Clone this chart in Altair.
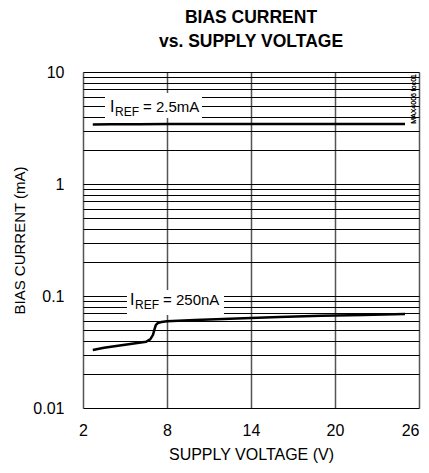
import altair as alt
import pandas as pd

FONT = "Liberation Sans, Arial, sans-serif"

# ---- data ----
x_ticks = [2, 8, 14, 20, 26]
y_grid = [0.01, 0.02, 0.03, 0.04, 0.05, 0.06, 0.07, 0.08, 0.09,
          0.1, 0.2, 0.3, 0.4, 0.5, 0.6, 0.7, 0.8, 0.9,
          1, 2, 3, 4, 5, 6, 7, 8, 9, 10]
y_labels = ["0.01", "0.1", "1", "10"]

hi_v = [2.7, 4, 6, 8, 11, 14, 17, 20, 23, 25]
hi_i = [3.40, 3.42, 3.42, 3.43, 3.43, 3.43, 3.43, 3.43, 3.43, 3.43]

lo_v = [2.7, 3.5, 4.5, 5.5, 6.5, 6.8, 7.0, 7.1, 7.2, 7.35, 7.6, 8, 10, 13, 16, 19, 22, 25]
lo_i = [0.033, 0.0345, 0.036, 0.0375, 0.039, 0.041, 0.045, 0.050, 0.055, 0.0575,
        0.0585, 0.0595, 0.061, 0.063, 0.065, 0.0665, 0.0678, 0.069]

# label boxes (x from, x to, y from, y to) and label anchor
box_x = [3.57, 5.14]
box_x2 = [10.5, 12.07]
box_y = [3.88, 0.0676]
box_y2 = [6.5, 0.113]
lab_x = [3.93, 5.36]
lab_y = [4.87, 0.092]
lab_val = ["= 2.5mA", "= 250nA"]

curves = pd.DataFrame({
    "v": hi_v + lo_v,
    "i": hi_i + lo_i,
    "s": ["hi"] * len(hi_v) + ["lo"] * len(lo_v),
})
boxes = pd.DataFrame({"x": box_x, "x2": box_x2, "y": box_y, "y2": box_y2})
labels = pd.DataFrame({"x": lab_x, "y": lab_y, "val": lab_val})

xs = alt.Scale(domain=[2, 26], nice=False)
ys = alt.Scale(type="log", domain=[0.01, 10], nice=False)

label_expr = ("indexof(" + str(y_labels).replace('"', "'") +
              ", format(datum.value, '')) >= 0 ? format(datum.value, '') : ''")

x_axis = alt.Axis(values=x_ticks, grid=True, gridColor="#555555", gridWidth=1.5,
                  ticks=False, domain=False, labelFontSize=16, labelFont=FONT,
                  labelColor="black", labelPadding=14, title="SUPPLY VOLTAGE (V)",
                  titleFont=FONT, titleFontSize=16, titleFontWeight="normal",
                  titleColor="black", titlePadding=8, labelFlush=False,
                  labelAlign={"condition": {"test": "datum.value == 26", "value": "right"},
                              "value": "center"})
y_axis = alt.Axis(values=y_grid, grid=True, gridColor="black", gridWidth=1,
                  ticks=False, domain=False, labelFontSize=16, labelFont=FONT,
                  labelColor="black", labelPadding=19, labelExpr=label_expr,
                  title="BIAS CURRENT (mA)", titleFont=FONT, titleFontSize=15,
                  titleFontWeight="normal", titleColor="black", titlePadding=5,
                  labelFlush=False, labelOverlap=False)

base = alt.Chart(curves)

lines = base.mark_line(color="black", strokeWidth=2.5).encode(
    x=alt.X("v:Q", scale=xs, axis=x_axis),
    y=alt.Y("i:Q", scale=ys, axis=y_axis),
    detail="s:N",
)

rects = alt.Chart(boxes).mark_rect(color="white").encode(
    x=alt.X("x:Q", scale=xs), x2="x2:Q",
    y=alt.Y("y:Q", scale=ys), y2="y2:Q",
)

t_i = alt.Chart(labels).mark_text(text="I", font=FONT, fontSize=16, align="left",
                                  baseline="middle", color="black").encode(
    x=alt.X("x:Q", scale=xs), y=alt.Y("y:Q", scale=ys))
t_ref = alt.Chart(labels).mark_text(text="REF", font=FONT, fontSize=12, align="left",
                                    baseline="middle", color="black", dx=5, dy=5).encode(
    x=alt.X("x:Q", scale=xs), y=alt.Y("y:Q", scale=ys))
t_val = alt.Chart(labels).mark_text(font=FONT, fontSize=15, align="left",
                                    baseline="middle", color="black", dx=33).encode(
    x=alt.X("x:Q", scale=xs), y=alt.Y("y:Q", scale=ys), text="val:N")

code = alt.Chart(labels).mark_text(text="MAX4006 toc01", font=FONT, fontSize=7,
                                   angle=270, align="right", baseline="middle",
                                   color="black").encode(
    x=alt.value(331), y=alt.value(2))

chart = alt.layer(rects, lines, t_i, t_ref, t_val, code).properties(
    width=336, height=336,
    title=alt.TitleParams(["BIAS CURRENT", "vs. SUPPLY VOLTAGE"], font=FONT,
                          fontSize=17.5, fontWeight="bold", color="black",
                          anchor="middle", offset=14, lineHeight=24),
    autosize=alt.AutoSizeParams(type="none"),
    padding={"left": 75, "top": 64, "right": 2, "bottom": 57},
).configure_view(stroke="black", strokeWidth=2.5).configure(background="white")

chart.save("out.html", embed_options={"renderer": "svg", "actions": False})
